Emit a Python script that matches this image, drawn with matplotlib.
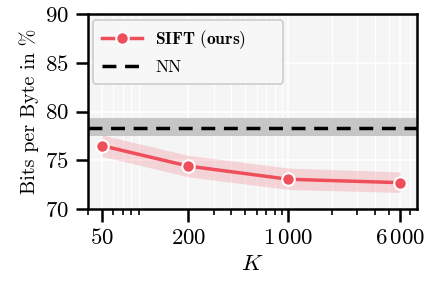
import matplotlib
matplotlib.use("Agg")
import matplotlib.pyplot as plt
from matplotlib.ticker import FixedLocator, FixedFormatter, LogLocator, NullFormatter

plt.rcParams["font.family"] = "serif"
plt.rcParams["font.serif"] = ["cmr10"]
plt.rcParams["mathtext.fontset"] = "cm"
plt.rcParams["axes.formatter.use_mathtext"] = True

# data
k_values = [50, 200, 1000, 6000]
sift_bpb = [76.5, 74.4, 73.05, 72.7]
sift_low = [75.4, 73.3, 72.0, 71.7]
sift_high = [77.6, 75.5, 74.2, 73.8]
nn_bpb = 78.3
nn_low = 77.5
nn_high = 79.3
x_ticklabels = [r"$50$", r"$200$", r"$1\,000$", r"$6\,000$"]
y_ticks = [70, 75, 80, 85, 90]

red = "#ee4f5b"

fig = plt.figure(figsize=(4.26, 2.81), dpi=100)
ax = fig.add_axes([88 / 426, 1 - 209 / 281, (417 - 88) / 426, (209 - 14) / 281])
ax.set_facecolor("#f5f5f5")

ax.axhspan(nn_low, nn_high, color="#c6c6c6", zorder=1, lw=0)
ax.axhline(nn_bpb, color="black", ls=(0, (4, 2.5)), lw=2.5, zorder=2, label="NN")

ax.fill_between(k_values, sift_low, sift_high, color=red, alpha=0.2, lw=0, zorder=3)
ax.plot(k_values, sift_bpb, color=red, lw=2.5, marker="o", ms=9,
        markeredgecolor="white", markeredgewidth=1.5, zorder=4,
        label=r"$\mathbf{SIFT\ (ours)}$")

ax.set_xscale("log")
ax.set_xlim(40, 7870)
ax.set_ylim(70, 90)
ax.xaxis.set_major_locator(FixedLocator(k_values))
ax.xaxis.set_major_formatter(FixedFormatter(x_ticklabels))
ax.xaxis.set_minor_locator(LogLocator(base=10, subs=range(2, 10)))
ax.xaxis.set_minor_formatter(NullFormatter())
ax.set_yticks(y_ticks)

ax.grid(True, which="major", color="white", lw=1.2, zorder=0)
ax.grid(True, which="minor", axis="x", color="white", lw=0.8, zorder=0)
ax.set_axisbelow(True)

for s in ax.spines.values():
    s.set_linewidth(1.8)
ax.tick_params(which="major", length=9, width=1.8, labelsize=16.5, pad=5)
ax.tick_params(which="minor", length=4.5, width=1.2)

ax.set_xlabel(r"$K$", fontsize=16.5)
ax.set_ylabel("Bits per Byte in %", fontsize=14.5)

# legend box stretched to the width seen in the reference
handles, labels = ax.get_legend_handles_labels()
order = [1, 0]
leg = ax.legend([handles[i] for i in order], [labels[i] for i in order],
                loc="upper left", bbox_to_anchor=(0.015, 0.97, 0.578, 0.0),
                mode="expand", borderaxespad=0.0,
                fontsize=12.5, frameon=True, fancybox=True,
                facecolor="#f7f7f7", edgecolor="#cccccc", framealpha=1.0,
                handlelength=2.3, borderpad=0.5)
leg.get_frame().set_linewidth(1.2)

fig.savefig("out.png", dpi=100)
